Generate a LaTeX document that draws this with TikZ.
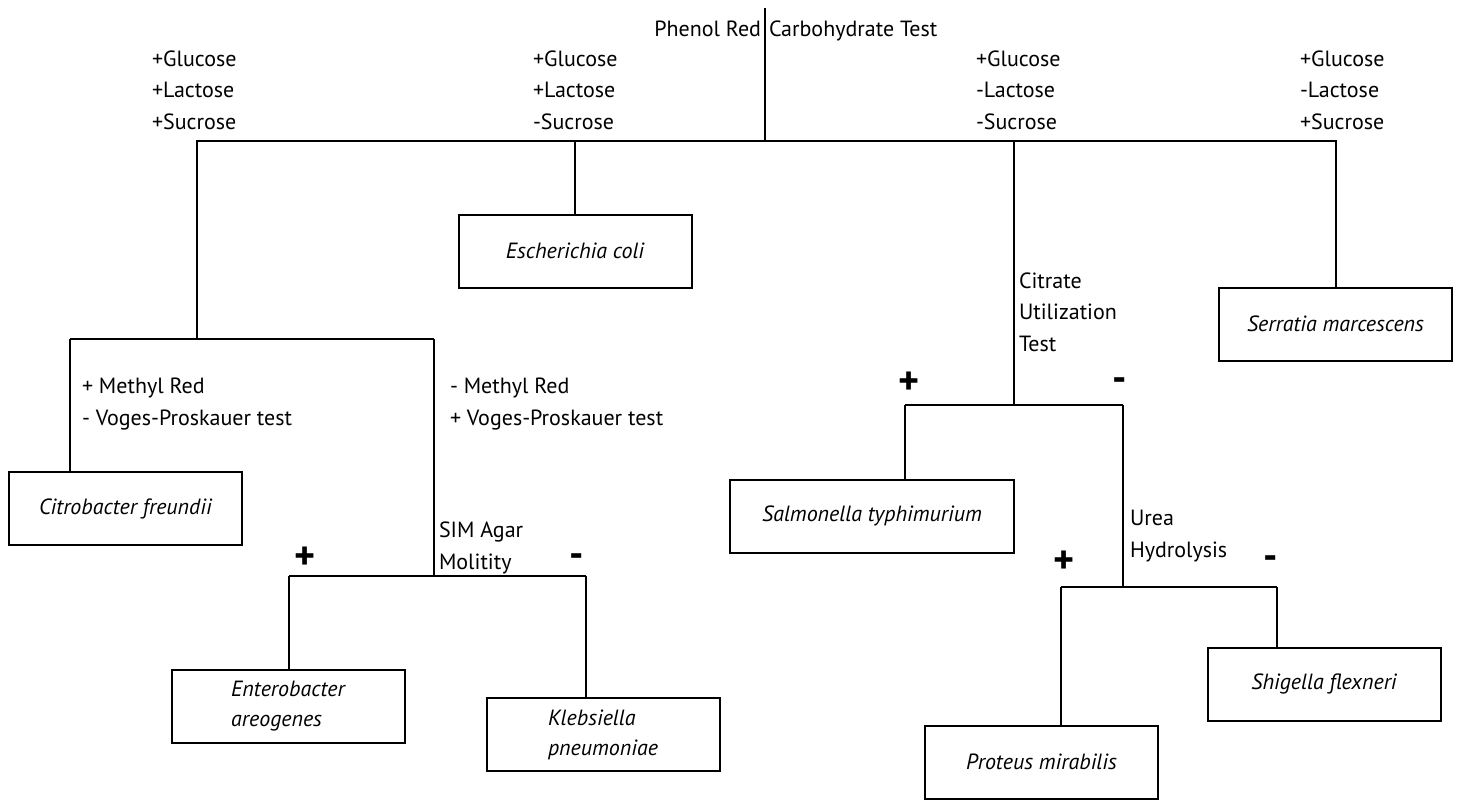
\documentclass[tikz,border=0pt]{standalone}
\usepackage{fontspec}
\setmainfont{PT Sans}
\tikzset{
  species/.style={draw, line width=1pt, minimum width=116.5pt, minimum height=36.5pt,
    inner sep=2pt, align=left, font=\fontsize{11}{15}\selectfont\itshape},
  cond/.style={anchor=west, align=left, inner sep=0pt, font=\fontsize{11}{15.75}\selectfont},
  sign/.style={inner sep=0pt, font=\fontsize{20}{20}\selectfont\bfseries},
}
\begin{document}
\begin{tikzpicture}[x=0.5pt, y=-0.5pt, line width=1pt]
\useasboundingbox (0,0) rectangle (1459,800);
% title, cut by the stem
\node [cond, anchor=base east] (phenol) at (762,36) {Phenol Red};
\node [cond, anchor=base west] (carbo) at (768,36) {Carbohydrate Test};
\coordinate (stem) at (765,8);
\coordinate (root) at (765,141);
\draw (stem) -- (root);

% sugar results
\node [cond] (ggg) at (151,90) {+Glucose\\+Lactose\\+Sucrose};
\node [cond] (ggs) at (532,90) {+Glucose\\+Lactose\\-Sucrose};
\node [cond] (gls) at (975,90) {+Glucose\\-Lactose\\-Sucrose};
\node [cond] (glg) at (1299,90) {+Glucose\\-Lactose\\+Sucrose};

% organisms
\node [species] (citro) at (125.5,508.5) {Citrobacter freundii};
\node [species] (ecoli) at (575,251) {Escherichia coli};
\node [species] (serr) at (1335.5,324) {Serratia marcescens};
\node [species] (entero) at (288,706.5) {Enterobacter\\areogenes};
\node [species] (klebs) at (603,734.5) {Klebsiella\\pneumoniae};
\node [species, minimum width=142pt] (salm) at (872,516) {Salmonella typhimurium};
\node [species] (proteus) at (1041.5,762) {Proteus mirabilis};
\node [species] (shig) at (1324,684) {Shigella flexneri};

% tests
\node [cond] (mrpos) at (81,404) {+ Methyl Red\\- Voges-Proskauer test};
\node [cond] (mrneg) at (449,404) {- Methyl Red\\+ Voges-Proskauer test};
\node [cond] (simtxt) at (438,548) {SIM Agar\\Molitity};
\node [cond] (cittxt) at (1018,312) {Citrate\\Utilization\\Test};
\node [cond] (ureatxt) at (1129,536) {Urea\\Hydrolysis};

\node [sign] (simp) at (305,558) {+};
\node [sign] (simm) at (577,561) {-};
\node [sign] (citp) at (909,383) {+};
\node [sign] (citm) at (1120,385) {-};
\node [sign] (ureap) at (1064,562) {+};
\node [sign] (ueram) at (1271,563) {-};

% first split
\coordinate (mr) at (197,339);
\coordinate (cit) at (1014,405);
\draw (root) -| (mr);
\draw (root) -| (ecoli.north);
\draw (root) -| (cit);
\draw (root) -| (serr.north);

% methyl red / voges-proskauer
\coordinate (mrL) at (70,339);
\coordinate (mrR) at (434,339);
\coordinate (sim) at (434,576);
\draw (mrL) -- (mrR);
\draw (mrL) -- (mrL |- citro.north);
\draw (mrR) -- (sim);
\coordinate (simL) at (289,576);
\coordinate (simR) at (586,576);
\draw (simL) -- (simR);
\draw (simL) -- (simL |- entero.north);
\draw (simR) -- (simR |- klebs.north);

% citrate, then urea
\coordinate (citL) at (905,405);
\coordinate (citR) at (1123,405);
\coordinate (urea) at (1123,587);
\draw (citL) -- (citR);
\draw (citL) -- (citL |- salm.north);
\draw (citR) -- (urea);
\coordinate (ureaL) at (1061,587);
\coordinate (ureaR) at (1277,587);
\draw (ureaL) -- (ureaR);
\draw (ureaL) -- (ureaL |- proteus.north);
\draw (ureaR) -- (ureaR |- shig.north);
\end{tikzpicture}
\end{document}
